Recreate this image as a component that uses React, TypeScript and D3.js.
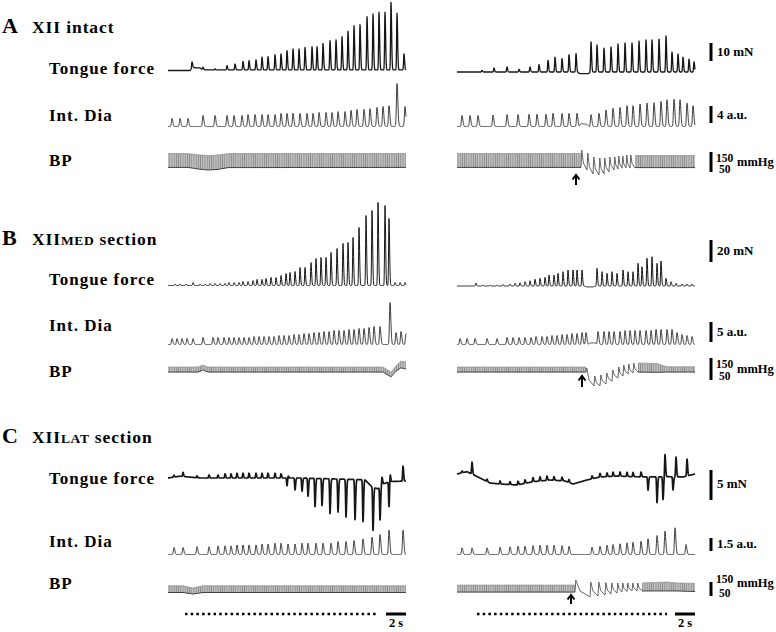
import React from 'react';
import * as d3 from 'd3';

// ---------------- DATA (time in s, values in trace units) ----------------
const T_END = 23.8;

// Panel A (XII intact) – left
const aL_tfT = [2.4, 3.5, 4.7, 5.9, 6.7, 7.5, 8.1, 8.8, 9.4, 10.0, 10.7, 11.3, 11.9, 12.5, 13.1, 13.7, 14.4, 14.9, 15.5, 16.2, 16.8, 17.4, 18.0, 18.6, 19.2, 19.9, 20.5, 21.1, 21.7, 22.3, 22.9, 23.6];
const aL_tfV = [3.7, 1.5, 0.6, 2.4, 3.3, 4.8, 5.2, 5.6, 7.1, 7.4, 8.5, 8.9, 10.7, 11.7, 11.7, 12.6, 12.9, 12.9, 14.8, 16.3, 16.7, 18.5, 21.5, 24.6, 25.2, 29.6, 31.1, 32.1, 32.1, 37.6, 31.5, 8.9];
const aL_tfBaseT = [0, 2.2, 2.5, 3.2, 3.5, 23.8];
const aL_tfBaseV = [0, 0, 1.6, 1.4, 0.3, 0.3];
const aL_idT = [0.4, 1.2, 2.0, 3.5, 4.7, 5.9, 6.6, 7.4, 8.0, 8.7, 9.4, 10.0, 10.7, 11.3, 11.9, 12.5, 13.2, 13.9, 14.5, 15.1, 15.8, 16.4, 17.0, 17.7, 18.3, 18.9, 19.6, 20.2, 20.9, 21.5, 22.1, 22.9, 23.7];
const aL_idV = [1.9, 1.9, 1.9, 2.6, 2.6, 2.6, 2.6, 2.6, 2.8, 2.8, 2.8, 2.8, 2.8, 3.1, 3.1, 3.1, 3.1, 3.1, 3.1, 3.3, 3.3, 3.3, 3.5, 3.5, 3.8, 4.0, 4.0, 4.2, 4.5, 4.7, 4.9, 10.1, 4.7];
const aL_bpT = [0, 2.0, 3.0, 4.0, 5.0, 6.0, 23.8];
const aL_bpS = [142, 142, 136, 132, 135, 142, 142];
const aL_bpD = [73, 73, 65, 60, 63, 72, 73];

// Panel A – right
const aR_tfT = [2.5, 3.7, 5.0, 6.2, 7.3, 8.2, 9.1, 9.8, 10.5, 11.2, 11.9, 13.4, 14.0, 14.7, 15.4, 16.1, 16.8, 17.5, 18.2, 18.9, 19.5, 20.2, 20.9, 21.5, 22.1, 22.6, 23.2, 23.7];
const aR_tfV = [0.9, 2.2, 2.8, 1.5, 2.8, 4.1, 6.5, 8.3, 7.4, 9.6, 10.2, 16.7, 15.0, 13.3, 13.9, 15.6, 16.1, 16.1, 17.2, 17.8, 17.8, 18.3, 20.0, 11.1, 10.0, 8.3, 7.2, 5.6];
const aR_tfBaseT = [0, 12.0, 12.3, 13.1, 13.4, 23.8];
const aR_tfBaseV = [0, 0, -0.9, -0.9, 0, 0];
const aR_idT = [0.5, 1.3, 2.1, 3.6, 5.0, 6.1, 7.2, 8.0, 8.9, 9.6, 10.5, 11.2, 12.0, 13.4, 14.2, 14.9, 15.6, 16.3, 17.0, 17.6, 18.3, 19.0, 19.7, 20.4, 21.0, 21.7, 22.3, 23.0, 23.6];
const aR_idV = [2.6, 2.6, 2.6, 2.7, 2.8, 2.8, 2.9, 2.9, 2.9, 3.1, 3.1, 3.1, 3.1, 2.8, 3.1, 3.9, 4.3, 4.5, 4.9, 4.9, 5.3, 5.5, 5.6, 5.9, 6.3, 6.4, 6.3, 5.5, 4.9];
const aR_idBaseT = [0, 12.2, 12.4, 13.0, 13.2, 23.8];
const aR_idBaseV = [0, 0, 0.7, 0.5, 0, 0];
const aR_bpT = [0, 12.4, 17.8, 23.8];
const aR_bpS = [142, 142, 132, 132];
const aR_bpD = [73, 73, 72, 72];
const aR_beatT = [12.4, 13.0, 13.6, 14.2, 14.7, 15.2, 15.7, 16.1, 16.5, 16.9, 17.3];
const aR_beatS = [160, 145, 125, 120, 120, 125, 125, 130, 130, 135, 135];
const aR_beatD = [60, 40, 35, 40, 50, 60, 65, 70, 70, 70, 70];

// Panel B (XII MED section) – left
const bL_tfT = [0.7, 1.2, 1.8, 2.5, 3.2, 3.7, 4.2, 4.7, 5.2, 5.7, 6.1, 6.6, 7.1, 7.5, 8.0, 8.5, 8.9, 9.4, 9.8, 10.3, 10.8, 11.3, 11.8, 12.2, 12.7, 13.2, 13.7, 14.3, 14.8, 15.3, 15.8, 16.3, 16.9, 17.5, 18.0, 18.5, 19.1, 19.8, 20.4, 21.0, 21.7, 22.1, 22.7, 23.2, 23.7];
const bL_tfV = [1.4, 1.4, 1.4, 2.7, 1.4, 1.4, 1.8, 1.8, 1.8, 1.8, 2.7, 2.7, 2.7, 3.6, 3.6, 4.5, 5.5, 5.5, 6.4, 7.3, 7.3, 9.1, 10.9, 11.8, 12.7, 16.4, 16.4, 20.9, 24.5, 25.5, 25.5, 30.0, 33.6, 38.2, 39.1, 43.6, 52.7, 63.6, 68.2, 75.5, 72.7, 60.9, 2.7, 2.7, 2.7];
const bL_idT = [0.4, 0.9, 1.4, 1.9, 2.5, 3.5, 4.5, 5.0, 5.6, 6.1, 6.6, 7.1, 7.6, 8.1, 8.6, 9.1, 9.6, 10.1, 10.6, 11.1, 11.6, 12.1, 12.6, 13.1, 13.6, 14.1, 14.6, 15.1, 15.6, 16.1, 16.6, 17.1, 17.6, 18.1, 18.6, 19.1, 19.6, 20.1, 20.6, 21.2, 22.2, 22.8, 23.3, 23.8];
const bL_idV = [1.5, 1.5, 1.5, 1.5, 1.5, 1.75, 1.75, 1.75, 1.75, 1.75, 1.75, 1.75, 1.75, 1.75, 2, 2, 2, 2, 2, 2.25, 2.25, 2.25, 2.5, 2.5, 2.75, 2.75, 3, 3, 3.25, 3.25, 3.5, 3.5, 3.5, 3.75, 3.75, 4, 4, 4.25, 4.5, 4.5, 10.5, 3, 3.25, 2.75];
const bL_bpT = [0, 3.0, 3.5, 4.0, 21.5, 22.3, 22.8, 23.3, 23.8];
const bL_bpS = [109, 109, 118, 109, 109, 86, 114, 136, 132];
const bL_bpD = [86, 86, 95, 86, 86, 64, 91, 105, 100];

// Panel B – right
const bR_tfT = [1.9, 2.6, 3.3, 4.0, 4.6, 5.3, 5.8, 6.3, 6.8, 7.3, 7.8, 8.3, 8.8, 9.2, 9.7, 10.1, 10.6, 11.1, 11.6, 12.0, 12.5, 14.0, 14.5, 15.0, 15.5, 16.0, 16.6, 17.1, 17.6, 18.1, 18.5, 19.0, 19.5, 20.0, 20.4, 20.9, 21.4, 21.9, 22.5, 23.0, 23.5];
const bR_tfV = [2.7, 0.9, 0.9, 0.9, 1.4, 1.8, 2.5, 3.0, 3.9, 4.8, 6.1, 7.0, 7.9, 10.0, 10.0, 11.5, 13.0, 14.5, 14.5, 14.5, 14.5, 16.1, 13.0, 11.5, 13.0, 11.5, 14.5, 13.0, 13.0, 20.6, 17.5, 25.2, 26.6, 20.6, 22.7, 7.0, 3.9, 2.5, 1.8, 1.8, 1.8];
const bR_tfBaseT = [0, 12.7, 13.0, 13.6, 13.9, 23.8];
const bR_tfBaseV = [0, 0, -0.8, -0.8, 0, 0];
const bR_idT = [0.3, 1.0, 1.8, 3.0, 4.0, 5.0, 5.6, 6.2, 6.8, 7.4, 7.9, 8.5, 9.0, 9.5, 10.0, 10.5, 11.0, 11.5, 12.0, 12.5, 12.9, 14.1, 14.7, 15.2, 15.7, 16.3, 16.8, 17.3, 17.8, 18.3, 18.9, 19.4, 19.9, 20.4, 21.0, 21.5, 22.0, 22.5, 23.0, 23.5];
const bR_idV = [1.5, 1.5, 1.5, 1.5, 1.5, 1.75, 1.75, 1.75, 1.75, 1.75, 2, 2, 2, 2.25, 2.25, 2.5, 2.5, 2.75, 2.75, 3, 3, 3.25, 3.25, 3.25, 3.25, 3.25, 3.5, 3.5, 3.5, 3.5, 3.5, 3.5, 3.75, 3.75, 3.75, 3.75, 3, 2.5, 2.25, 2];
const bR_idBaseT = [0, 13.1, 13.3, 13.8, 14.0, 23.8];
const bR_idBaseV = [0, 0, 0.4, 0.4, 0, 0];
const bR_bpT = [0, 12.9, 18.1, 20.0, 21.0, 23.8];
const bR_bpS = [109, 109, 127, 125, 110, 110];
const bR_bpD = [86, 86, 86, 85, 86, 86];
const bR_beatT = [12.9, 13.7, 14.3, 14.9, 15.5, 16.1, 16.6, 17.1, 17.6];
const bR_beatS = [104, 68, 73, 82, 95, 109, 118, 123, 127];
const bR_beatD = [23, 23, 32, 45, 59, 68, 77, 82, 86];

// Panel C (XII LAT section) – left
const cL_tfT = [0.6, 1.5, 2.9, 4.1, 5.0, 5.7, 6.3, 6.9, 7.5, 8.1, 8.8, 9.4, 10.0, 10.7, 11.3, 12.0, 11.9, 12.7, 13.4, 14.0, 14.7, 15.4, 16.2, 17.0, 17.8, 18.7, 19.5, 20.5, 21.2, 22.1, 21.4, 22.2, 23.5];
const cL_tfV = [0.3, 0.7, 0.3, 0.5, 0.5, 0.7, 0.7, 0.8, 0.8, 0.8, 0.8, 0.8, 0.8, 0.8, 0.7, 0.5, -1.3, -2.0, -2.2, -3.0, -4.7, -4.5, -5.8, -5.5, -6.3, -6.7, -7.0, -7.2, -5.5, -4.2, 1.3, 1.7, 2.5];
const cL_tfBaseT = [0, 1.2, 3.2, 13.2, 19.7, 20.4, 21.0, 21.5, 22.2, 23.8];
const cL_tfBaseV = [0, 0.3, 0, 0, -0.3, -1.5, -1.8, -1.0, -0.6, -0.5];
const cL_idT = [0.6, 1.5, 2.9, 4.1, 5.0, 5.7, 6.3, 6.9, 7.5, 8.1, 8.8, 9.4, 10.0, 10.7, 11.3, 12.0, 12.7, 13.4, 14.0, 14.8, 15.5, 16.3, 17.0, 17.8, 18.6, 19.5, 20.4, 21.2, 22.1, 23.5];
const cL_idV = [0.8, 0.8, 0.9, 0.9, 1.0, 1.0, 1.0, 1.1, 1.1, 1.1, 1.1, 1.2, 1.2, 1.3, 1.3, 1.2, 1.2, 1.3, 1.3, 1.3, 1.3, 1.3, 1.5, 1.5, 1.6, 1.8, 2.0, 2.3, 2.8, 2.8];
const cL_bpT = [0, 1.5, 2.5, 3.5, 23.8];
const cL_bpS = [123, 123, 107, 123, 123];
const cL_bpD = [75, 75, 64, 75, 75];

// Panel C – right
const cR_tfT = [1.5, 0.5, 3.0, 4.3, 5.3, 6.1, 6.8, 7.6, 8.3, 9.0, 9.7, 10.5, 11.2, 13.5, 14.3, 15.0, 15.6, 16.3, 17.0, 17.6, 18.4, 19.1, 19.1, 20.0, 20.6, 20.8, 21.6, 21.9, 23.0];
const cR_tfV = [2.0, 0.3, 0.4, 0.5, 0.5, 0.6, 0.6, 0.7, 0.7, 0.7, 0.6, 0.6, 0.5, 0.5, 0.6, 0.6, 0.7, 0.7, 0.7, 0.7, 0.8, 0.8, -3.0, -4.3, -3.8, 3.7, -2.2, 3.3, 2.8];
const cR_tfBaseT = [0, 1.0, 2.3, 3.3, 4.3, 6.0, 7.6, 9.3, 10.8, 11.6, 13.0, 14.3, 16.0, 17.6, 19.3, 21.0, 22.6, 23.8];
const cR_tfBaseV = [0.67, 1.05, 0, -0.83, -1.0, -1.17, -0.62, -0.33, -0.5, -1.0, -0.33, 0.17, 0.33, 0.22, 0.17, 0.22, 0.17, 0.67];
const cR_idT = [0.5, 1.5, 3.0, 4.3, 5.3, 6.1, 6.8, 7.6, 8.3, 9.0, 9.7, 10.5, 11.2, 13.5, 14.3, 15.0, 15.6, 16.3, 17.0, 17.6, 18.4, 19.1, 20.0, 20.8, 21.8, 22.9];
const cR_idV = [0.77, 0.77, 0.77, 0.84, 0.89, 0.95, 0.95, 1.03, 1.07, 1.07, 1.07, 1.03, 0.95, 0.84, 0.95, 1.07, 1.15, 1.23, 1.34, 1.41, 1.53, 1.8, 2.18, 2.68, 3.07, 1.15];
const cR_bpT = [0, 11.8, 18.5, 21.0, 22.0, 23.8];
const cR_bpS = [128, 128, 143, 150, 143, 140];
const cR_bpD = [78, 78, 86, 86, 86, 82];
const cR_beatT = [11.8, 13.3, 14.1, 14.8, 15.4, 16.0, 16.5, 17.0, 17.5, 18.0];
const cR_beatS = [164, 150, 150, 146, 143, 143, 143, 143, 143, 143];
const cR_beatD = [43, 50, 57, 64, 71, 79, 82, 86, 86, 89];

// Stimulation periods (dotted lines) and time scale (s)
const stimL = [1.7, 21.0];
const stimR = [2.0, 21.0];
const timeBar = [21.8, 23.8];

// Labels
const panelLetters = ['A', 'B', 'C'];
const panelSubs = ['', 'MED', 'LAT'];
const panelRest = [' intact', ' section', ' section'];
const traceNames = ['Tongue force', 'Int. Dia', 'BP'];
const tfBarVals = [10, 20, 5];
const idBarVals = [4, 5, 1.5];
const tfBarText = ['10 mN', '20 mN', '5 mN'];
const idBarText = ['4 a.u.', '5 a.u.', '1.5 a.u.'];

// ---------------- RENDER HELPERS ----------------
const FONT = '"Liberation Serif", "Times New Roman", serif';
const xL = d3.scaleLinear().domain([0, T_END]).range([168, 406]);
const xR = d3.scaleLinear().domain([0, T_END]).range([457, 695]);

type P = [number, number];

function synth(times: number[], amps: number[], kind: 'spike' | 'wave', baseT: number[] = [0, T_END], baseV: number[] = [0, 0]): P[] {
  const base = d3.scaleLinear().domain(baseT).range(baseV).clamp(true);
  const [sl, sr] = kind === 'spike' ? [0.055, 0.085] : [0.08, 0.12];
  const out: P[] = [];
  const n = Math.round(T_END / 0.02);
  for (let k = 0; k <= n; k++) {
    const t = k * 0.02;
    let v = base(t);
    for (let i = 0; i < times.length; i++) {
      const d = t - times[i];
      const s = d < 0 ? sl : sr;
      if (Math.abs(d) < 5 * s) v += amps[i] * Math.exp(-(d / s) * (d / s));
    }
    out.push([t, v]);
  }
  return out;
}

function Trace({ pts, x, base, k, stroke, sw }: any) {
  const y = d3.scaleLinear().domain([0, 1]).range([base, base - k]);
  const d = d3.line<P>().x(p => x(p[0])).y(p => y(p[1]))(pts) || '';
  return <path d={d} fill="none" stroke={stroke} strokeWidth={sw} strokeLinejoin="round" />;
}

function BP({ x, y50, y150, envT, sys, dia, beatT = [], beatS = [], beatD = [] }: any) {
  const y = d3.scaleLinear().domain([50, 150]).range([y50, y150]);
  const sF = d3.scaleLinear().domain(envT).range(sys);
  const dF = d3.scaleLinear().domain(envT).range(dia);
  const t0 = beatT.length ? beatT[0] : Infinity;
  const t1 = beatT.length ? beatT[beatT.length - 1] + 0.5 : -Infinity;
  const ts = d3.range(0, T_END, 0.1).concat([T_END]);
  if (beatT.length) ts.push(t0, t1);
  ts.sort((a, b) => a - b);
  const env = ts.map(t => ({ t, s: sF(t), d: dF(t) }));
  const def = (p: any) => p.t <= t0 + 1e-6 || p.t >= t1 - 1e-6;
  const area = d3.area<any>().defined(def).x(p => x(p.t)).y0(p => y(p.d)).y1(p => y(p.s)).curve(d3.curveMonotoneX)(env) || '';
  const top = d3.line<any>().defined(def).x(p => x(p.t)).y(p => y(p.s)).curve(d3.curveMonotoneX)(env) || '';
  const bot = d3.line<any>().defined(def).x(p => x(p.t)).y(p => y(p.d)).curve(d3.curveMonotoneX)(env) || '';
  let beats = '';
  if (beatT.length) {
    const pts: P[] = [[t0, dF(t0)]];
    for (let i = 0; i < beatT.length; i++) {
      const tn = i < beatT.length - 1 ? beatT[i + 1] : t1;
      const ts0 = beatT[i] + 0.08;
      pts.push([ts0, beatS[i]]);
      pts.push([ts0 + 0.3 * (tn - ts0), beatD[i] + 0.35 * (beatS[i] - beatD[i])]);
      pts.push([tn, beatD[i]]);
    }
    beats = d3.line<P>().x(p => x(p[0])).y(p => y(p[1]))(pts) || '';
  }
  return (
    <g>
      <path d={area} fill="url(#bpHatch)" stroke="none" />
      <path d={top} fill="none" stroke="#8f8f8f" strokeWidth={0.7} />
      <path d={bot} fill="none" stroke="#404040" strokeWidth={1} />
      {beats && <path d={beats} fill="none" stroke="#555" strokeWidth={0.9} />}
    </g>
  );
}

function Arrow({ x, tip, tail }: any) {
  return (
    <g stroke="#000" strokeWidth={2} fill="none">
      <line x1={x} x2={x} y1={tip + 1} y2={tail} />
      <polyline points={`${x - 3.5},${tip + 4.5} ${x},${tip} ${x + 3.5},${tip + 4.5}`} strokeLinejoin="miter" />
    </g>
  );
}

// layout per panel
const rows = [
  { title: 33, lab: [74, 121, 166], tfBase: [70.5, 72], tfK: 1.8, idBase: [126.5, 126.5], idK: 4.25, bp: [172, 152], tfBarTop: 43, tfTxt: 56, idBarTop: 106, idTxt: 119, p150: 162, p50: 173, pmm: 166, arrow: [576, 175, 185] },
  { title: 245, lab: [285, 331, 377], tfBase: [285.5, 286], tfK: 1.1, idBase: [344.5, 344.5], idK: 4, bp: [380, 358], tfBarTop: 240, tfTxt: 255, idBarTop: 322, idTxt: 336, p150: 368, p50: 380, pmm: 373, arrow: [582, 376, 387] },
  { title: 443, lab: [484, 547, 589], tfBase: [478, 478], tfK: 6, idBase: [554.5, 554.5], idK: 8.7, bp: [596, 582], tfBarTop: 470, tfTxt: 488, idBarTop: 538, idTxt: 548, p150: 583, p50: 597, pmm: 587, arrow: [571, 595, 604] },
];

const tfSW = [1.3, 1.0, 1.7];

export default function App() {
  const data = [
    {
      tfL: synth(aL_tfT, aL_tfV, 'spike', aL_tfBaseT, aL_tfBaseV), tfR: synth(aR_tfT, aR_tfV, 'spike', aR_tfBaseT, aR_tfBaseV),
      idL: synth(aL_idT, aL_idV, 'wave'), idR: synth(aR_idT, aR_idV, 'wave', aR_idBaseT, aR_idBaseV),
      bpL: { envT: aL_bpT, sys: aL_bpS, dia: aL_bpD }, bpR: { envT: aR_bpT, sys: aR_bpS, dia: aR_bpD, beatT: aR_beatT, beatS: aR_beatS, beatD: aR_beatD },
    },
    {
      tfL: synth(bL_tfT, bL_tfV, 'spike'), tfR: synth(bR_tfT, bR_tfV, 'spike', bR_tfBaseT, bR_tfBaseV),
      idL: synth(bL_idT, bL_idV, 'wave'), idR: synth(bR_idT, bR_idV, 'wave', bR_idBaseT, bR_idBaseV),
      bpL: { envT: bL_bpT, sys: bL_bpS, dia: bL_bpD }, bpR: { envT: bR_bpT, sys: bR_bpS, dia: bR_bpD, beatT: bR_beatT, beatS: bR_beatS, beatD: bR_beatD },
    },
    {
      tfL: synth(cL_tfT, cL_tfV, 'spike', cL_tfBaseT, cL_tfBaseV), tfR: synth(cR_tfT, cR_tfV, 'spike', cR_tfBaseT, cR_tfBaseV),
      idL: synth(cL_idT, cL_idV, 'wave'), idR: synth(cR_idT, cR_idV, 'wave'),
      bpL: { envT: cL_bpT, sys: cL_bpS, dia: cL_bpD }, bpR: { envT: cR_bpT, sys: cR_bpS, dia: cR_bpD, beatT: cR_beatT, beatS: cR_beatS, beatD: cR_beatD },
    },
  ];

  return (
    <svg width={776} height={632} style={{ position: 'absolute', left: 0, top: 0, display: 'block' }} fontFamily={FONT} fontWeight="bold">
      <defs>
        <pattern id="bpHatch" width={2.2} height={10} patternUnits="userSpaceOnUse">
          <rect width={2.2} height={10} fill="#bdbdbd" />
          <rect width={0.7} height={10} fill="#858585" />
        </pattern>
      </defs>
      <rect width={776} height={632} fill="#fff" />
      {rows.map((r, i) => {
        const dd = data[i];
        return (
          <g key={i}>
            <text x={2} y={r.title} fontSize={22}>{panelLetters[i]}</text>
            <text x={32} y={r.title} fontSize={17.5} letterSpacing={0.9}>
              XII{panelSubs[i] && <tspan fontSize={13.5} letterSpacing={0.6}>{panelSubs[i]}</tspan>}{panelRest[i]}
            </text>
            {traceNames.map((n, j) => (
              <text key={n} x={49} y={r.lab[j]} fontSize={17} letterSpacing={1}>{n}</text>
            ))}
            <Trace pts={dd.tfL} x={xL} base={r.tfBase[0]} k={r.tfK} stroke="#161616" sw={tfSW[i]} />
            <Trace pts={dd.tfR} x={xR} base={r.tfBase[1]} k={r.tfK} stroke="#161616" sw={tfSW[i]} />
            <Trace pts={dd.idL} x={xL} base={r.idBase[0]} k={r.idK} stroke="#2a2a2a" sw={0.9} />
            <Trace pts={dd.idR} x={xR} base={r.idBase[1]} k={r.idK} stroke="#2a2a2a" sw={0.9} />
            <BP x={xL} y50={r.bp[0]} y150={r.bp[1]} {...dd.bpL} />
            <BP x={xR} y50={r.bp[0]} y150={r.bp[1]} {...dd.bpR} />
            <Arrow x={r.arrow[0]} tip={r.arrow[1]} tail={r.arrow[2]} />
            <line x1={711} x2={711} y1={r.tfBarTop} y2={r.tfBarTop + tfBarVals[i] * r.tfK} stroke="#000" strokeWidth={3} />
            <text x={717} y={r.tfTxt} fontSize={13}>{tfBarText[i]}</text>
            <line x1={711} x2={711} y1={r.idBarTop} y2={r.idBarTop + idBarVals[i] * r.idK} stroke="#000" strokeWidth={3} />
            <text x={717} y={r.idTxt} fontSize={13}>{idBarText[i]}</text>
            <line x1={711} x2={711} y1={r.bp[1]} y2={r.bp[0]} stroke="#000" strokeWidth={3} />
            <text x={716} y={r.p150} fontSize={11.5}>150</text>
            <text x={719} y={r.p50} fontSize={11.5}>50</text>
            <text x={737} y={r.pmm} fontSize={12.5}>mmHg</text>
          </g>
        );
      })}
      <line x1={xL(stimL[0])} x2={xL(stimL[1])} y1={614} y2={614} stroke="#000" strokeWidth={2.5} strokeDasharray="2.5 3.2" />
      <line x1={xR(stimR[0])} x2={xR(stimR[1])} y1={614} y2={614} stroke="#000" strokeWidth={2.5} strokeDasharray="2.5 3.2" />
      <line x1={xL(timeBar[0])} x2={xL(timeBar[1])} y1={614} y2={614} stroke="#000" strokeWidth={3} />
      <line x1={xR(timeBar[0])} x2={xR(timeBar[1])} y1={614} y2={614} stroke="#000" strokeWidth={3} />
      <text x={(xL(timeBar[0]) + xL(timeBar[1])) / 2} y={627} fontSize={12.5} textAnchor="middle">2 s</text>
      <text x={(xR(timeBar[0]) + xR(timeBar[1])) / 2} y={627} fontSize={12.5} textAnchor="middle">2 s</text>
    </svg>
  );
}
